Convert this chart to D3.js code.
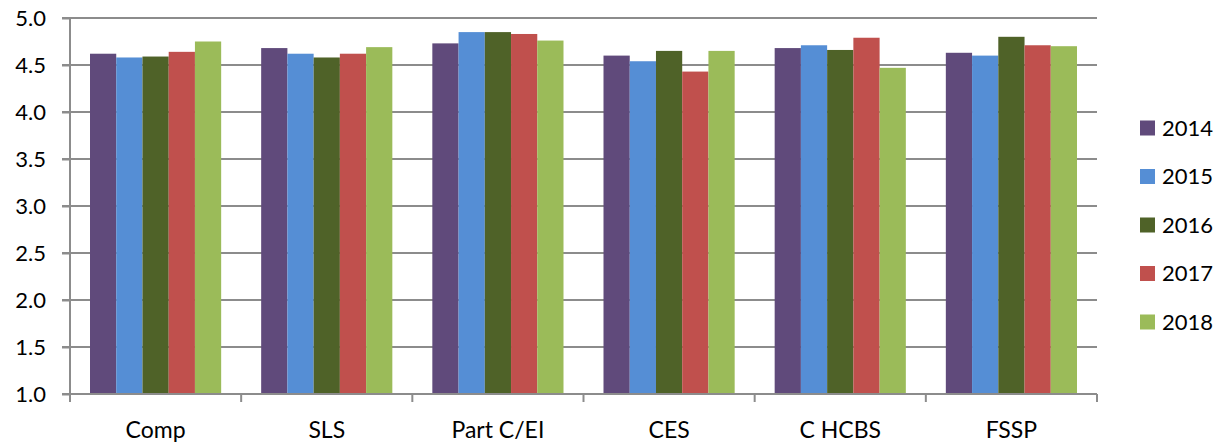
<html>
<script src="https://d3js.org/d3.v7.min.js"></script>
<body style="margin:0;background:#fff">
<style>
  body { font-family: Lato, "Open Sans", sans-serif; }
  .tick text { font-family: Lato, "Open Sans", sans-serif; fill: #000; }
</style>
<svg width="1223" height="447"></svg>
<script>
var categories = ["Comp", "SLS", "Part C/EI", "CES", "C HCBS", "FSSP"];
var years = ["2014", "2015", "2016", "2017", "2018"];
var v2014 = [4.62, 4.68, 4.73, 4.60, 4.68, 4.63];
var v2015 = [4.58, 4.62, 4.85, 4.54, 4.71, 4.60];
var v2016 = [4.59, 4.58, 4.85, 4.65, 4.66, 4.80];
var v2017 = [4.64, 4.62, 4.83, 4.43, 4.79, 4.71];
var v2018 = [4.75, 4.69, 4.76, 4.65, 4.47, 4.70];
var yTicks = [1.0, 1.5, 2.0, 2.5, 3.0, 3.5, 4.0, 4.5, 5.0];
var colors = ["#604A7B", "#558ED5", "#4F6228", "#C0504D", "#9BBB59"];

var series = [v2014, v2015, v2016, v2017, v2018];

var plotLeft = 70, plotRight = 1097, plotTop = 18, plotBottom = 394;
var svg = d3.select("svg");

var x = d3.scaleBand().domain(categories).range([plotLeft, plotRight]).paddingInner(0).paddingOuter(0);
var xi = d3.scaleBand().domain(years).range([20, x.bandwidth() - 20]).padding(0);
var y = d3.scaleLinear().domain([1, 5]).range([plotBottom, plotTop]);

// gridlines
svg.append("g").selectAll("line")
  .data(yTicks.slice(1))
  .enter().append("line")
  .attr("x1", plotLeft - 8).attr("x2", plotRight)
  .attr("y1", function(d) { return y(d); })
  .attr("y2", function(d) { return y(d); })
  .style("stroke", "#8c8c8c").style("stroke-width", "2px");

// bars
series.forEach(function(vals, i) {
  svg.append("g").selectAll("rect")
    .data(vals)
    .enter().append("rect")
    .attr("x", function(d, j) { return x(categories[j]) + xi(years[i]); })
    .attr("y", function(d) { return y(d); })
    .attr("width", xi.bandwidth())
    .attr("height", function(d) { return y(1) - y(d); })
    .style("fill", colors[i]);
});

// y axis
var ya = svg.append("g")
  .attr("transform", "translate(" + plotLeft + ",0)")
  .call(d3.axisLeft(y).tickValues(yTicks).tickFormat(d3.format(".1f")).tickSize(8).tickPadding(16));
ya.selectAll("line").style("stroke", "#8c8c8c").style("stroke-width", "2px");
ya.selectAll("text").style("font-size", "22px");
ya.select(".domain").style("stroke", "#8c8c8c").style("stroke-width", "2px").attr("d", "M0," + plotTop + "V" + plotBottom);

// x axis
var xa = svg.append("g")
  .attr("transform", "translate(0," + plotBottom + ")")
  .call(d3.axisBottom(x).tickSize(0).tickPadding(26));
xa.select(".domain").style("stroke", "#8c8c8c").style("stroke-width", "2px").attr("d", "M" + (plotLeft - 8) + ",0H" + plotRight);
xa.selectAll(".tick text").style("font-size", "23px").attr("dy", "0.8em");
svg.append("g").selectAll("line")
  .data(categories.concat(["end"]))
  .enter().append("line")
  .attr("x1", function(d, i) { return i < categories.length ? x(d) : plotRight; })
  .attr("x2", function(d, i) { return i < categories.length ? x(d) : plotRight; })
  .attr("y1", plotBottom).attr("y2", plotBottom + 8)
  .style("stroke", "#8c8c8c").style("stroke-width", "2px");

// legend
var lg = svg.append("g");
years.forEach(function(yr, i) {
  var cy = 128 + i * 48.5;
  lg.append("rect").attr("x", 1140).attr("y", cy - 7.5).attr("width", 15).attr("height", 15).style("fill", colors[i]);
  lg.append("text").attr("x", 1162).attr("y", cy).attr("dy", "0.35em")
    .style("font-size", "22px").text(yr);
});
</script>
</body>
</html>
